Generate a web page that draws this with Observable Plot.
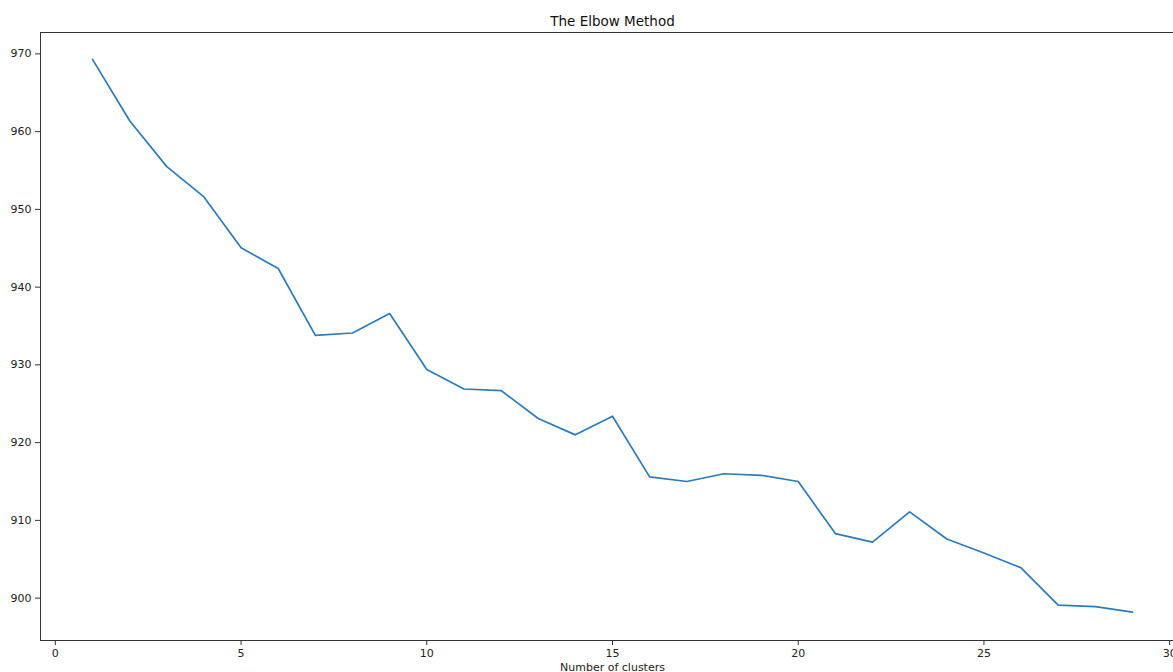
<!DOCTYPE html>
<html>
<head>
<meta charset="utf-8">
<script src="https://cdn.jsdelivr.net/npm/d3@7"></script>
<script src="https://cdn.jsdelivr.net/npm/@observablehq/plot@0.6"></script>
<style>
  html, body { margin: 0; padding: 0; background: #fff; }
  svg { display: block; }
</style>
</head>
<body>
<div id="chart"></div>
<script>
const clusters = [1,2,3,4,5,6,7,8,9,10,11,12,13,14,15,16,17,18,19,20,21,22,23,24,25,26,27,28,29];
const wcss = [969.3,961.4,955.5,951.6,945.05,942.4,933.8,934.1,936.6,929.4,926.9,926.7,923.1,921.0,923.4,915.6,915.0,916.0,915.8,915.0,908.3,907.2,911.1,907.6,905.8,903.9,899.1,898.9,898.2];
const xTicks = [0,5,10,15,20,25,30];
const yTicks = [900,910,920,930,940,950,960,970];
const titleText = "The Elbow Method";
const xLabel = "Number of clusters";

const data = clusters.map((k, i) => ({k, v: wcss[i]}));
const xDom = [-0.4, 30.4];
const yDom = [894.55, 972.75];

const chart = Plot.plot({
  width: 1173,
  height: 672,
  marginLeft: 40,
  marginRight: 0,
  marginTop: 32,
  marginBottom: 32,
  style: {fontFamily: "DejaVu Sans", background: "#fff", color: "#222"},
  x: {domain: xDom, range: [40, 1184]},
  y: {domain: yDom},
  marks: [
    Plot.axisX({ticks: xTicks, tickSize: 5, tickPadding: 4, fontSize: 11, label: null, stroke: "#333", fill: "#222"}),
    Plot.axisY({ticks: yTicks, tickSize: 5, tickPadding: 4, fontSize: 11, label: null, stroke: "#333", fill: "#222"}),
    Plot.ruleX([xDom[0], xDom[1]], {y1: yDom[0], y2: yDom[1], stroke: "#333", strokeWidth: 1}),
    Plot.ruleY([yDom[0], yDom[1]], {x1: xDom[0], x2: xDom[1], stroke: "#333", strokeWidth: 1}),
    Plot.line(data, {x: "k", y: "v", stroke: "#2b7bba", strokeWidth: 1.7}),
    Plot.text([titleText], {x: 15, frameAnchor: "top", dy: -7, text: d => d, fontSize: 13.5, fill: "#111", lineAnchor: "bottom"}),
    Plot.text([xLabel], {x: 15, frameAnchor: "bottom", dy: 30, text: d => d, fontSize: 11, fill: "#222", lineAnchor: "bottom"})
  ]
});
document.getElementById("chart").appendChild(chart);
</script>
</body>
</html>
